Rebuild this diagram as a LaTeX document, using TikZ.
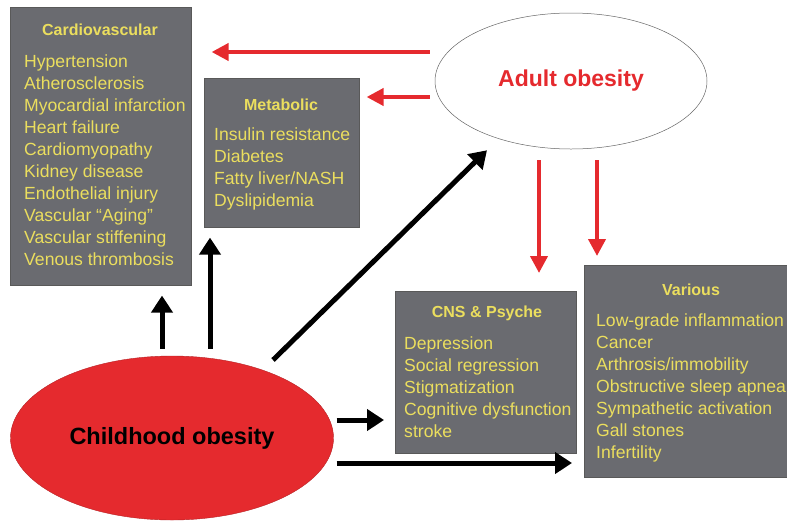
\documentclass[tikz,border=0pt]{standalone}
\usepackage{fontspec}
\setmainfont{Liberation Sans}
\usetikzlibrary{arrows.meta, positioning, shapes.geometric, calc}
\definecolor{panel}{HTML}{6A6B70}
\definecolor{hilite}{HTML}{EBDE5E}
\definecolor{alarm}{HTML}{E52A2E}

\begin{document}
\begin{tikzpicture}[
  x=1pt, y=-1pt,
  box/.style={draw=black!65, line width=0.6pt, fill=panel, anchor=north west, inner sep=0pt},
  head/.style={font=\fontsize{16}{19}\selectfont\bfseries, text=hilite, inner sep=0pt},
  items/.style={font=\fontsize{17.6}{22}\selectfont, text=hilite, align=left,
                inner sep=0pt, anchor=north west},
  blob/.style={ellipse, inner sep=0pt},
  ar/.style={-{Triangle[length=17pt, width=21pt]}, line width=5pt},
  rar/.style={-{Triangle[length=17pt, width=17pt]}, line width=4pt, alarm}
]
\useasboundingbox (0,0) rectangle (787,523);

% --- panels ---
\node[box, minimum width=181pt, minimum height=278pt] (cardio)  at (10,7)    {};
\node[box, minimum width=155pt, minimum height=149pt] (meta)    at (204,78)  {};
\node[box, minimum width=181pt, minimum height=162pt] (cns)     at (395,291) {};
\node[box, minimum width=215pt, minimum height=212pt] (various) at (584,265) {};

\node[head] (cardiot) at (100,30)  {Cardiovascular};
\node[head] (metat)   at (281,105) {Metabolic};
\node[head] (cnst)    at (487,313) {CNS \& Psyche};
\node[head] (variot)  at (691,290) {Various};

\node[items] (cardiol) at (24,55) {Hypertension\\ Atherosclerosis\\ Myocardial infarction\\
  Heart failure\\ Cardiomyopathy\\ Kidney disease\\ Endothelial injury\\
  Vascular “Aging”\\ Vascular stiffening\\ Venous thrombosis};
\node[items] (metal) at (214,128) {Insulin resistance\\ Diabetes\\ Fatty liver/NASH\\ Dyslipidemia};
\node[items] (cnsl) at (404,337) {Depression\\ Social regression\\ Stigmatization\\
  Cognitive dysfunction\\ stroke};
\node[items] (variol) at (596,314) {Low-grade inflammation\\ Cancer\\ Arthrosis/immobility\\
  Obstructive sleep apnea\\ Sympathetic activation\\ Gall stones\\ Infertility};

% --- obesity ---
\node[blob, draw=black!60, line width=0.5pt, fill=white, minimum width=272pt, minimum height=136pt,
      font=\fontsize{23}{26}\selectfont\bfseries, text=alarm] (adult) at (571,81) {Adult obesity};
\node[blob, draw=alarm!80!black, line width=0.4pt, fill=alarm, minimum width=323pt, minimum height=164pt,
      font=\fontsize{23.5}{26}\selectfont\bfseries] (child) at (172,438) {Childhood obesity};

% --- adult obesity leads to ---
\draw[rar] ($(adult.west)+(-5,-29)$) coordinate (r1) -- ([xshift=20pt]cardio.east |- r1);
\draw[rar] ($(adult.west)+(-5,16)$) coordinate (r2) -- ([xshift=7pt]meta.east |- r2);
\draw[rar] ($(adult.south)+(-32,11)$) coordinate (r3) -- ([yshift=18pt]cns.north -| r3);
\draw[rar] ($(adult.south)+(26,11)$) coordinate (r4) -- ([yshift=9pt]various.north -| r4);

% --- childhood obesity leads to ---
\draw[ar] ($(child.north)+(-10,-7)$) coordinate (b1) -- ([yshift=-10pt]cardio.south -| b1);
\draw[ar] ($(child.north)+(38,-7)$) coordinate (b2) -- ([yshift=-10pt]meta.south -| b2);
\draw[ar] ($(child.center)+(101,-78)$) -- ($(adult.south)+(-84,1)$);
\draw[ar] ($(child.east)+(3,-18)$) coordinate (b3) -- ([xshift=-11pt]cns.west |- b3);
\draw[ar] ($(child.east)+(3,25)$) coordinate (b4) -- ([xshift=-12pt]various.west |- b4);
\end{tikzpicture}
\end{document}
